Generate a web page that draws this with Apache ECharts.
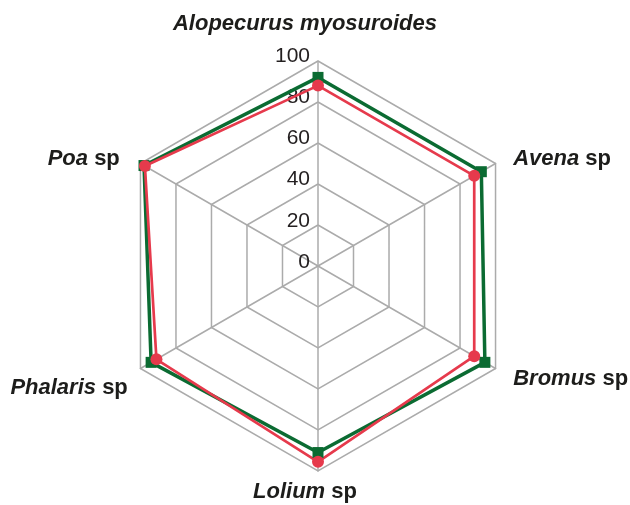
<!DOCTYPE html>
<html>
<head>
<meta charset="utf-8">
<script src="https://cdn.jsdelivr.net/npm/echarts@6/dist/echarts.min.js"></script>
<style>html,body{margin:0;padding:0;background:#fff}#c{width:630px;height:505px}</style>
</head>
<body>
<div id="c"></div>
<script>
// Data (indicators listed counter-clockwise from the top, as ECharts draws them)
var italicNames = ['Alopecurus myosuroides', 'Poa', 'Phalaris', 'Lolium', 'Bromus', 'Avena'];
var suffixes = ['', ' sp', ' sp', ' sp', ' sp', ' sp'];
var greenValues = [92, 98, 94, 91, 94, 92];
var redValues = [88, 97.5, 91, 95.5, 88, 88];
var tickValues = [0, 20, 40, 60, 80, 100];

// Label offsets (style only): [top, right, bottom, left] padding per indicator
var namePad = [
  [0, 26, 16, 0],
  [0, 12, 0, 0],
  [28, 4, 0, 0],
  [0, 26, 0, 0],
  [10, 0, 0, 9],
  [0, 0, 0, 9]
];

var rich = {};
italicNames.forEach(function (n, i) {
  var p = namePad[i];
  var hasSuffix = suffixes[i] !== '';
  rich['i' + i] = {
    fontFamily: 'Liberation Sans', fontSize: 22, fontWeight: 'bold', fontStyle: 'italic', color: '#1d1d1b',
    padding: [p[0], hasSuffix ? 0 : p[1], p[2], p[3]]
  };
  rich['n' + i] = {
    fontFamily: 'Liberation Sans', fontSize: 22, fontWeight: 'bold', color: '#1d1d1b',
    padding: [p[0], p[1], p[2], 0]
  };
});

var chart = echarts.init(document.getElementById('c'), null, {renderer: 'canvas'});
var maxV = tickValues[tickValues.length - 1];
chart.setOption({
  animation: false,
  radar: {
    center: [318, 266],
    radius: 205,
    startAngle: 90,
    splitNumber: tickValues.length - 1,
    shape: 'polygon',
    nameGap: 10,
    indicator: italicNames.map(function (n, i) { return {name: String(i), min: tickValues[0], max: maxV}; }),
    axisName: {
      formatter: function (v) {
        var i = +v;
        var s = '{i' + i + '|' + italicNames[i] + '}';
        if (suffixes[i]) s += '{n' + i + '|' + suffixes[i] + '}';
        return s;
      },
      rich: rich
    },
    axisLine: {lineStyle: {color: '#ababab', width: 1.5}},
    splitLine: {lineStyle: {color: '#ababab', width: 1.5}},
    splitArea: {show: false},
    axisLabel: {show: false},
    axisTick: {show: false}
  },
  grid: {left: 318, top: 56, width: 100, height: 206},
  xAxis: {show: false, type: 'value'},
  yAxis: {
    type: 'value', min: tickValues[0], max: maxV, interval: tickValues[1] - tickValues[0],
    axisLine: {show: false}, axisTick: {show: false}, splitLine: {show: false},
    axisLabel: {margin: 8, fontFamily: 'Liberation Sans', fontSize: 21, color: '#231f20'}
  },
  series: [{
    type: 'radar',
    name: 'Series 1',
    symbol: 'rect',
    symbolSize: 11,
    lineStyle: {color: '#0b6b32', width: 3.5},
    itemStyle: {color: '#0b6b32'},
    data: [{value: greenValues}]
  }, {
    type: 'radar',
    name: 'Series 2',
    symbol: 'circle',
    symbolSize: 12,
    lineStyle: {color: '#e63a4c', width: 2.7},
    itemStyle: {color: '#e63a4c'},
    data: [{value: redValues}]
  }]
});
</script>
</body>
</html>
